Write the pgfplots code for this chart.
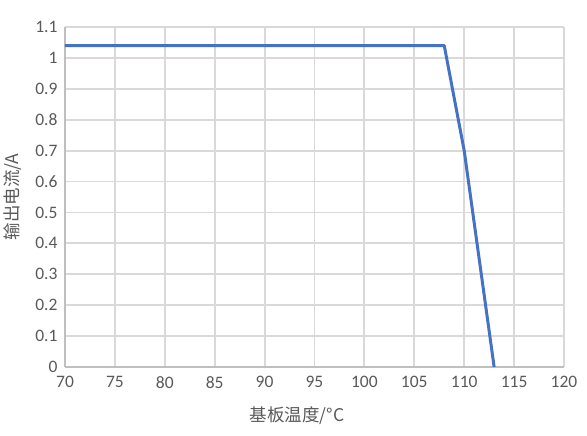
\documentclass[border=0pt]{standalone}
\usepackage{fontspec}
\setmainfont{Carlito}
\newfontfamily\cjk{Noto Sans CJK SC}
\usepackage{pgfplots}
\pgfplotsset{compat=1.18}
\definecolor{txt}{HTML}{595959}
\definecolor{gridc}{HTML}{D9D9D9}
\definecolor{axc}{HTML}{BFBFBF}
\definecolor{line}{HTML}{4472C4}
\begin{document}
\begin{tikzpicture}
\useasboundingbox (-65pt,-69pt) rectangle (522pt,367pt);
\begin{axis}[
  at={(0,0)}, anchor=south west,
  scale only axis, width=499pt, height=340pt,
  xmin=70, xmax=120, ymin=0, ymax=1.1,
  xtick={70,75,...,120},
  ytick={0,0.1,...,1.1},
  yticklabels={0,0.1,0.2,0.3,0.4,0.5,0.6,0.7,0.8,0.9,1,1.1},
  /pgf/number format/assume math mode=true,
  tick label style={font=\fontsize{17.5}{20}\selectfont, text=txt},
  xticklabel style={yshift=-6pt},
  yticklabel style={xshift=-4pt},
  major tick length=0pt,
  grid=major,
  major grid style={gridc, line width=1.9pt},
  axis lines*=left,
  axis line style={axc, line width=1.9pt, -},
  xlabel={\cjk 基板温度/°C},
  ylabel={\cjk 输出电流/A},
  label style={font=\fontsize{17.5}{20}\selectfont, text=txt},
  xlabel style={at={(axis description cs:0.465,0)}, anchor=center, yshift=-49pt},
  ylabel style={at={(axis description cs:0,0.5)}, anchor=center, rotate=0, yshift=52pt},
  clip=false,
]
\addplot[line, line width=3pt, line join=round] coordinates {
  (70,1.04) (108,1.04) (110,0.7) (113,0)
};
\end{axis}
\end{tikzpicture}
\end{document}
